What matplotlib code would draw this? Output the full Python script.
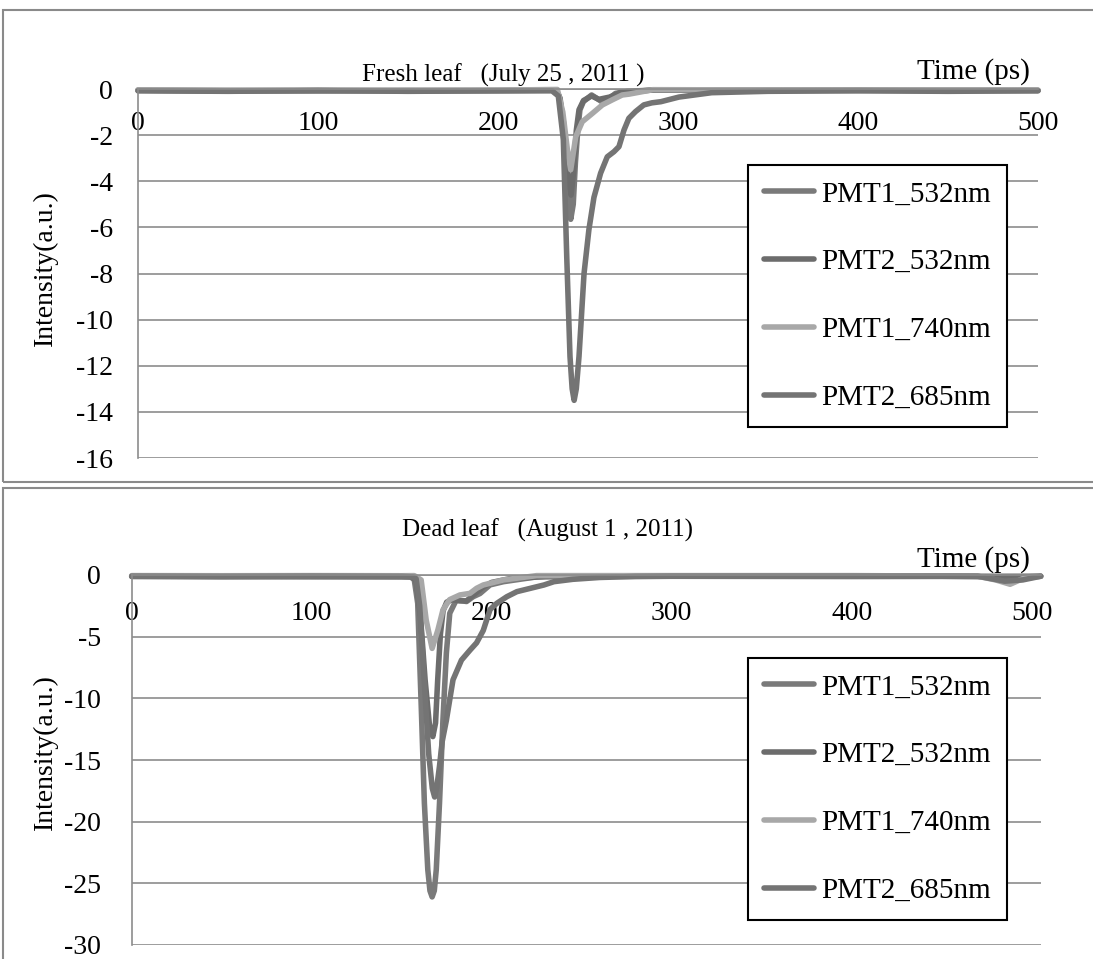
import numpy as np
import matplotlib
matplotlib.use("Agg")
from matplotlib import pyplot as plt
from matplotlib.patches import Rectangle

plt.rcParams['font.family'] = ['Liberation Serif', 'DejaVu Serif']

labels = ["PMT1_532nm", "PMT2_532nm", "PMT1_740nm", "PMT2_685nm"]
colors = ["#7a7a7a", "#6c6c6c", "#a8a8a8", "#747474"]

# ---- Fresh leaf (top panel)
t_fresh_p1_532 = [0, 50, 100, 150, 200, 232, 234, 236.5, 238.5, 240.4, 241.8, 243, 244.3, 245.5,
                  247.4, 252, 254.8, 257.6, 262, 265.3, 272, 285, 350, 400, 450, 500]
y_fresh_p1_532 = [-0.05, -0.08, -0.06, -0.08, -0.06, -0.05, -0.3, -1.5, -3.8, -5.65, -5.0, -3.2, -1.8, -0.91,
                  -0.55, -0.26, -0.4, -0.55, -0.4, -0.19, -0.1, -0.05, -0.05, -0.06, -0.05, -0.06]

t_fresh_p2_532 = [0, 50, 100, 150, 200, 232, 234.5, 237, 239, 240.6, 242, 243.5, 245, 247.5,
                  252, 256, 262, 268, 285, 350, 400, 450, 500]
y_fresh_p2_532 = [-0.06, -0.07, -0.08, -0.06, -0.07, -0.05, -0.4, -2.0, -3.9, -4.6, -3.6, -1.8, -0.9, -0.5,
                  -0.3, -0.45, -0.35, -0.15, -0.05, -0.06, -0.05, -0.07, -0.06]

t_fresh_p1_740 = [0, 50, 100, 150, 200, 233, 236, 238.5, 240.4, 243.2, 246.8, 252.4, 258, 263.5,
                  269, 273, 286, 350, 400, 450, 500]
y_fresh_p1_740 = [-0.04, -0.05, -0.04, -0.06, -0.05, -0.02, -1.0, -2.6, -3.5, -2.07, -1.42, -1.06, -0.69, -0.47,
                  -0.26, -0.22, -0.03, -0.04, -0.05, -0.04, -0.05]

t_fresh_p2_685 = [0, 50, 100, 150, 200, 230, 233.5, 236.3, 238.2, 240, 241.2, 242.3, 243.5, 245, 247.8,
                  250.5, 253.3, 257, 260.7, 264.4, 267.2, 270, 272.7, 276.4, 281, 285.5, 290.5, 300.5,
                  318.7, 350, 400, 450, 500]
y_fresh_p2_685 = [-0.08, -0.1, -0.07, -0.1, -0.08, -0.08, -0.3, -2.2, -7.3, -11.6, -13.0, -13.5, -13.0, -11.6, -8.0,
                  -6.1, -4.7, -3.65, -2.94, -2.72, -2.5, -1.78, -1.27, -0.98, -0.69, -0.6, -0.55, -0.35,
                  -0.16, -0.1, -0.08, -0.1, -0.08]

# ---- Dead leaf (bottom panel)
t_dead_p1_532 = [0, 50, 100, 150, 155, 157, 158.9, 160.8, 162.6, 164.5, 165.7, 166.9, 168.1, 169.2, 171,
                 172.9, 174.8, 176.7, 180.4, 186, 189.7, 193.5, 199.1, 206.6, 225, 250, 300, 400, 450,
                 480, 490, 505]
y_dead_p1_532 = [-0.1, -0.15, -0.12, -0.15, -0.15, -0.4, -2.3, -10.4, -18.5, -23.9, -25.6, -26.1, -25.6, -23.9, -18.5,
                 -11.8, -6.35, -3.1, -2.0, -2.15, -1.76, -1.5, -0.8, -0.54, -0.15, -0.1, -0.1, -0.1, -0.1,
                 -0.15, -0.2, -0.1]

t_dead_p2_532 = [0, 50, 100, 150, 156, 158, 160.5, 163, 165.5, 167.3, 168.8, 170, 171.5, 173, 175,
                 178, 182, 186, 190, 195, 200, 210, 230, 300, 400, 505]
y_dead_p2_532 = [-0.12, -0.1, -0.14, -0.12, -0.15, -0.5, -3.5, -8.5, -12.3, -13.1, -12.0, -8.5, -4.8, -2.9, -2.2,
                 -2.0, -2.1, -2.1, -1.6, -1.0, -0.6, -0.3, -0.12, -0.1, -0.12, -0.1]

t_dead_p1_740 = [0, 50, 100, 150, 157, 160.8, 163.6, 166.9, 170.1, 172.9, 176.6, 182.3, 187.9, 191.6,
                 195.3, 206.6, 225, 300, 400, 470, 480, 488, 495, 505]
y_dead_p1_740 = [-0.05, -0.06, -0.05, -0.06, -0.05, -0.4, -3.65, -5.95, -4.46, -2.84, -2.0, -1.62, -1.49, -1.08,
                 -0.81, -0.4, -0.05, -0.05, -0.05, -0.1, -0.4, -0.75, -0.3, -0.1]

t_dead_p2_685 = [0, 50, 100, 150, 156, 158, 160, 162.5, 165, 167, 168.3, 169.5, 171, 172.5, 174.8, 178.5,
                 183.2, 187.9, 191.6, 195.3, 199.1, 202.8, 208.4, 214, 221.5, 229, 234.6, 245, 260, 280,
                 300, 400, 470, 485, 495, 505]
y_dead_p2_685 = [-0.1, -0.12, -0.1, -0.12, -0.15, -0.3, -2.5, -8.5, -14.5, -17.3, -18.0, -17.2, -15.5, -13.5, -11.8,
                 -8.5, -6.9, -6.1, -5.5, -4.5, -2.8, -2.3, -1.76, -1.35, -1.08, -0.81, -0.54, -0.35, -0.2,
                 -0.12, -0.1, -0.1, -0.1, -0.5, -0.4, -0.1]

fresh = [(t_fresh_p1_532, y_fresh_p1_532), (t_fresh_p2_532, y_fresh_p2_532),
         (t_fresh_p1_740, y_fresh_p1_740), (t_fresh_p2_685, y_fresh_p2_685)]
dead = [(t_dead_p1_532, y_dead_p1_532), (t_dead_p2_532, y_dead_p2_532),
        (t_dead_p1_740, y_dead_p1_740), (t_dead_p2_685, y_dead_p2_685)]

W, H = 1093, 959
fig = plt.figure(figsize=(W / 100, H / 100), dpi=100)

# panel frames (Excel chart areas)
for (y0, y1) in [(10, 482), (488, 962)]:
    fig.patches.append(Rectangle((3 / W, 1 - y1 / H), 1.2, (y1 - y0) / H, transform=fig.transFigure,
                                 fill=False, edgecolor="#8a8a8a", lw=1.5))

grid_c = "#8c8c8c"


def panel(rect, series, yticks, xmax, title, title_xy, time_xy, ylab_xy, leg_xy, xpad, ypad):
    ax = fig.add_axes(rect)
    for (t, y), lab, c in zip(series, labels, colors):
        ax.plot(t, y, color=c, lw=4, label=lab, clip_on=False, solid_capstyle="round",
                solid_joinstyle="round")
    ax.set_xlim(0, xmax)
    ax.set_ylim(min(yticks), 0)
    ax.set_yticks(yticks)
    ax.set_yticklabels([str(v) for v in yticks])
    ax.set_xticks([0, 100, 200, 300, 400, 500])
    ax.yaxis.grid(True, color=grid_c, lw=1.2)
    ax.set_axisbelow(True)
    for s in ["top", "right"]:
        ax.spines[s].set_visible(False)
    ax.spines["bottom"].set_position(("data", 0))
    ax.spines["bottom"].set_color(grid_c)
    ax.spines["left"].set_color(grid_c)
    ax.spines["bottom"].set_linewidth(1.2)
    ax.spines["left"].set_linewidth(1.2)
    ax.tick_params(axis="x", length=0, pad=xpad, labelsize=20)
    ax.tick_params(axis="y", length=0, pad=ypad, labelsize=20)
    ax.patch.set_alpha(0)
    fig.text(title_xy[0] / W, 1 - title_xy[1] / H, title, ha="center", va="center", fontsize=18)
    fig.text(time_xy[0] / W, 1 - time_xy[1] / H, "Time (ps)", ha="right", va="center", fontsize=21)
    fig.text(ylab_xy[0] / W, 1 - ylab_xy[1] / H, "Intensity(a.u.)", ha="center", va="center",
             rotation=90, fontsize=20)
    leg = ax.legend(loc="upper left", bbox_to_anchor=(leg_xy[0] / W, 1 - leg_xy[1] / H),
                    bbox_transform=fig.transFigure, fontsize=21, frameon=True, fancybox=False,
                    edgecolor="black", framealpha=1, handlelength=1.7, handletextpad=0.25,
                    labelspacing=1.42, borderpad=0.55, borderaxespad=0)
    leg.get_frame().set_linewidth(1.5)
    return ax


panel([138 / W, 1 - 458 / H, 900 / W, 369 / H], fresh, list(range(0, -17, -2)), 500,
      "Fresh leaf   (July 25 , 2011 )", (503, 75), (1030, 72), (45, 268), (748, 165), 16, 18)
panel([131.7 / W, 1 - 945 / H, 909 / W, 370 / H], dead, list(range(0, -31, -5)), 505,
      "Dead leaf   (August 1 , 2011)", (548, 530), (1030, 560), (45, 752), (748, 658), 19, 22)

fig.savefig("out.png", dpi=100)
